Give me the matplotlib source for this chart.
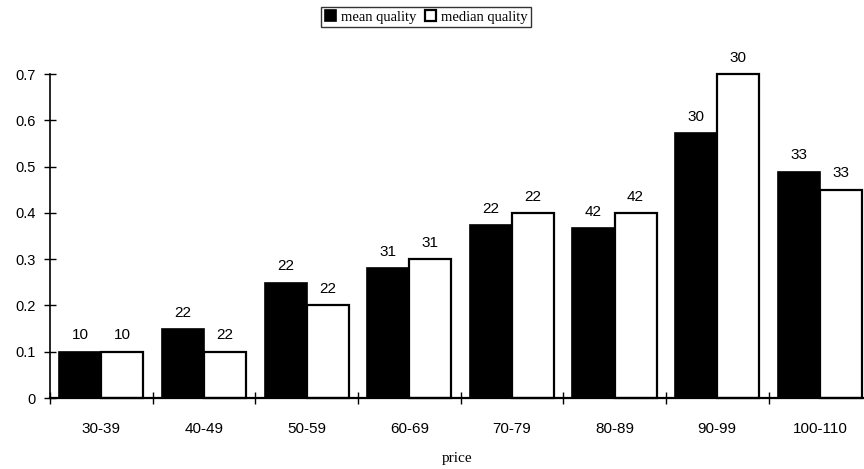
import numpy as np
import matplotlib
matplotlib.use('Agg')
import matplotlib.pyplot as plt
from matplotlib.ticker import FixedLocator, NullFormatter

categories = ['30-39', '40-49', '50-59', '60-69', '70-79', '80-89', '90-99', '100-110']
mean_quality = [0.10, 0.148, 0.249, 0.281, 0.373, 0.367, 0.572, 0.489]
median_quality = [0.10, 0.10, 0.20, 0.30, 0.40, 0.40, 0.70, 0.45]
mean_counts = [10, 22, 22, 31, 22, 42, 30, 33]
median_counts = [10, 22, 22, 31, 22, 42, 30, 33]

fig = plt.figure(figsize=(8.64, 4.69), dpi=100)
ax = fig.add_axes([50/864, 71/469, 814/864, 324/469])

x = np.arange(len(categories))
w = 0.41
b1 = ax.bar(x - w/2, mean_quality, w, color='black', edgecolor='black', lw=1.2,
            label='mean quality', clip_on=False)
b2 = ax.bar(x + w/2, median_quality, w, color='white', edgecolor='black', lw=1.6,
            label='median quality', clip_on=False)

# counts above each bar
for xi, v, n in zip(x - w/2, mean_quality, mean_counts):
    ax.text(xi, v + 0.02, str(n), ha='center', va='bottom', fontsize=11,
            family='Liberation Sans')
for xi, v, n in zip(x + w/2, median_quality, median_counts):
    ax.text(xi, v + 0.02, str(n), ha='center', va='bottom', fontsize=11,
            family='Liberation Sans')

ax.set_xlim(-0.5, 7.43)
ax.set_ylim(0, 0.7)
for s in ['top', 'right']:
    ax.spines[s].set_visible(False)
ax.spines['left'].set_linewidth(1.2)
ax.spines['bottom'].set_linewidth(1.6)

ax.set_yticks(np.arange(0, 0.71, 0.1))
ax.set_yticklabels(['0'] + ['%.1f' % v for v in np.arange(0.1, 0.71, 0.1)],
                   family='Liberation Sans', fontsize=10.5)
ax.tick_params(axis='y', direction='inout', length=9, width=1, pad=6)

ax.set_xticks(x)
ax.set_xticklabels(categories, family='Liberation Sans', fontsize=11)
ax.tick_params(axis='x', which='major', length=0, pad=17)
ax.xaxis.set_minor_locator(FixedLocator(np.arange(-0.5, 7.6, 1)))
ax.xaxis.set_minor_formatter(NullFormatter())
ax.tick_params(axis='x', which='minor', direction='inout', length=9, width=1)

ax.set_xlabel('price', family='Liberation Serif', fontsize=11, labelpad=12)

leg = fig.legend(handles=[b1, b2], loc='center', bbox_to_anchor=(426/864, 1 - 17/469),
                 ncol=2, frameon=True, fancybox=False, edgecolor='black',
                 prop={'family': 'Liberation Serif', 'size': 10.5},
                 handlelength=0.8, handleheight=0.8, handletextpad=0.3,
                 columnspacing=0.6, borderpad=0.25, borderaxespad=0)
leg.get_frame().set_linewidth(1.0)

fig.savefig('out.png', dpi=100)
